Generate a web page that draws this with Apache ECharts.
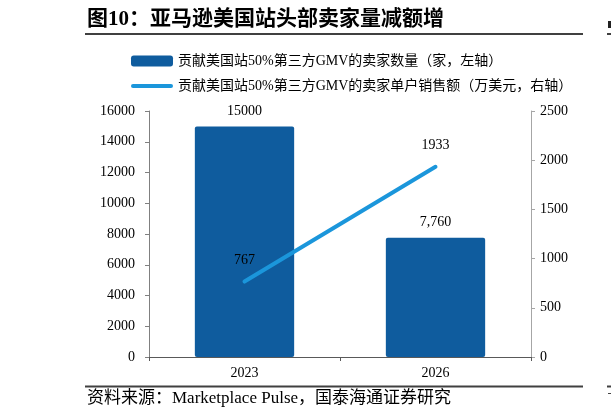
<!DOCTYPE html>
<html><head><meta charset="utf-8">
<script src="https://cdn.jsdelivr.net/npm/echarts@6/dist/echarts.min.js"></script>
<style>html,body{margin:0;padding:0;background:#fff}#c{width:611px;height:419px}</style>
</head><body><div id="c"></div>
<script>
const categories = ['2023', '2026'];
const sellerCount = [15000, 7760];
const salesPerSeller = [767, 1933];
const sellerLabels = ['15000', '7,760'];
const leftTicks = [0, 16000, 2000];
const rightTicks = [0, 2500, 500];
const nameBar = '贡献美国站50%第三方GMV的卖家数量（家，左轴）';
const nameLine = '贡献美国站50%第三方GMV的卖家单户销售额（万美元，右轴）';
const titleText = '图10：亚马逊美国站头部卖家量减额增';
const sourceText = '资料来源：Marketplace Pulse，国泰海通证券研究';

const FONT = "'Liberation Serif', 'Noto Sans CJK SC', serif";
const chart = echarts.init(document.getElementById('c'));
chart.setOption({
  animation: false,
  textStyle: { fontFamily: FONT, color: '#000' },
  grid: { left: 149, right: 80, top: 111, bottom: 62 },
  legend: [
    { data: [{ name: nameBar, icon: 'roundRect' }], left: 126, top: 49, itemWidth: 42, itemHeight: 11, itemGap: 0,
      textStyle: { fontFamily: FONT, fontSize: 14, color: '#000' } },
    { data: [{ name: nameLine, icon: 'path://M2,0 H40 A2,2 0 0 1 40,4 H2 A2,2 0 0 1 2,0 Z' }], left: 126, top: 74, itemWidth: 42, itemHeight: 11, itemGap: 0,
      textStyle: { fontFamily: FONT, fontSize: 14, color: '#000' } }
  ],
  xAxis: {
    type: 'category', data: categories,
    axisLine: { lineStyle: { color: '#595959', width: 1 } },
    axisTick: { show: true, length: 4, lineStyle: { color: '#595959' } },
    axisLabel: { fontFamily: FONT, fontSize: 14, color: '#000', margin: 9 }
  },
  yAxis: [
    { type: 'value', min: leftTicks[0], max: leftTicks[1], interval: leftTicks[2],
      splitLine: { show: false },
      axisLine: { show: true, lineStyle: { color: '#808080' } },
      axisTick: { show: true, length: 4, lineStyle: { color: '#808080' } },
      axisLabel: { fontFamily: FONT, fontSize: 14, color: '#000', margin: 14, formatter: v => String(v) } },
    { type: 'value', min: rightTicks[0], max: rightTicks[1], interval: rightTicks[2],
      splitLine: { show: false },
      axisLine: { show: true, lineStyle: { color: '#a6a6a6' } },
      axisTick: { show: true, length: 4, lineStyle: { color: '#a6a6a6' } },
      axisLabel: { fontFamily: FONT, fontSize: 14, color: '#000', margin: 9, formatter: v => String(v) } }
  ],
  series: [
    { name: nameBar, type: 'bar', data: sellerCount, barWidth: '52%', yAxisIndex: 0,
      itemStyle: { color: '#0F5C9E', borderRadius: 2 },
      label: { show: true, position: 'top', distance: 8, fontFamily: FONT, fontSize: 14, color: '#000',
        formatter: p => sellerLabels[p.dataIndex] } },
    { name: nameLine, type: 'line', data: salesPerSeller, yAxisIndex: 1,
      symbol: 'circle', symbolSize: 1, showSymbol: true,
      itemStyle: { color: '#1B96DB' },
      lineStyle: { color: '#1B96DB', width: 4, cap: 'round' },
      label: { show: true, position: 'top', distance: 14, fontFamily: FONT, fontSize: 14, color: '#000' } }
  ],
  graphic: [
    { type: 'text', left: 87, top: 9, style: { text: titleText, fontFamily: FONT, fontSize: 21, fontWeight: 'bold', fill: '#000' } },
    { type: 'rect', shape: { x: 85, y: 33, width: 498, height: 2 }, style: { fill: '#404040' } },
    { type: 'rect', shape: { x: 85, y: 385.5, width: 498, height: 2 }, style: { fill: '#404040' } },
    { type: 'text', left: 87, top: 390, style: { text: sourceText, fontFamily: FONT, fontSize: 17, fill: '#000' } },
    { type: 'rect', shape: { x: 608, y: 21, width: 3, height: 7 }, style: { fill: '#222' } },
    { type: 'rect', shape: { x: 607, y: 33, width: 4, height: 2 }, style: { fill: '#404040' } },
    { type: 'rect', shape: { x: 607, y: 385.5, width: 4, height: 2 }, style: { fill: '#404040' } },
    { type: 'rect', shape: { x: 608, y: 393, width: 3, height: 1 }, style: { fill: '#444' } }
  ]
});
</script></body></html>
